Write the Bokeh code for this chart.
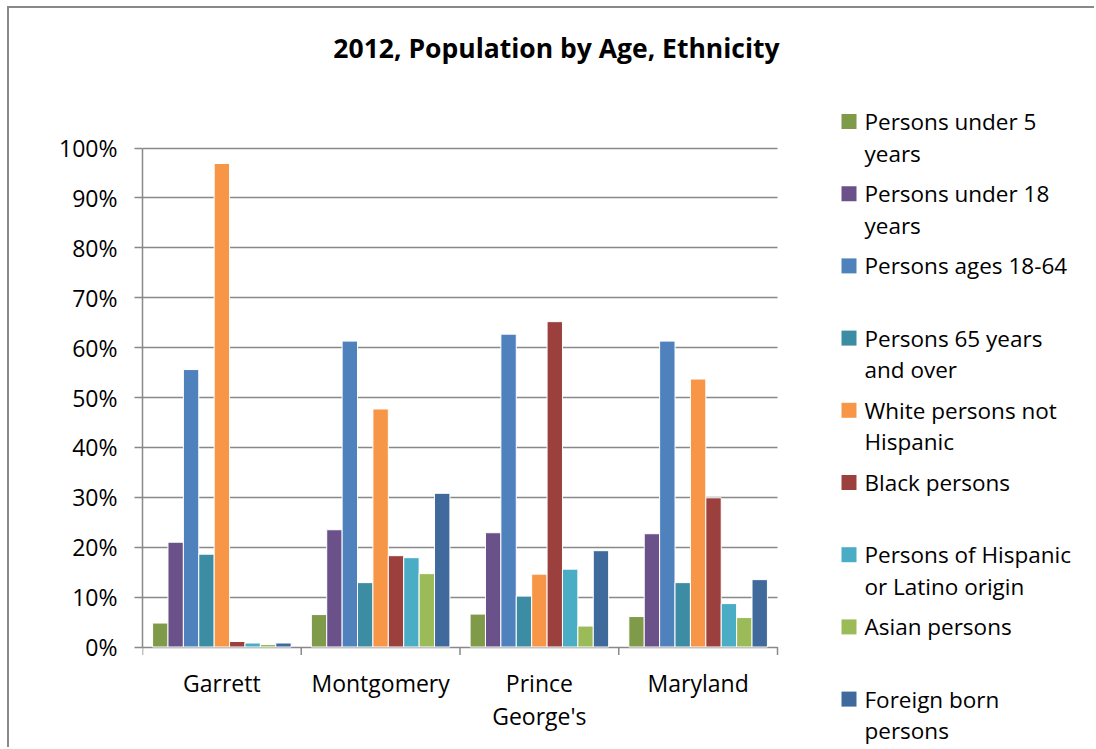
import numpy as np
from bokeh.plotting import figure
from bokeh.models import Range1d, FixedTicker, NumeralTickFormatter, ColumnDataSource
from bokeh.embed import file_html
from bokeh.resources import INLINE
from bokeh.core.properties import value

# ---------------- data ----------------
title_text = "2012, Population by Age, Ethnicity"
categories = ["Garrett", "Montgomery", "Prince George's", "Maryland"]
category_labels = ["Garrett", "Montgomery", "Prince\nGeorge's", "Maryland"]

series_names = [
    "Persons under 5\nyears",
    "Persons under 18\nyears",
    "Persons ages 18-64",
    "Persons 65 years\nand over",
    "White persons not\nHispanic",
    "Black persons",
    "Persons of Hispanic\nor Latino origin",
    "Asian persons",
    "Foreign born\npersons",
]
colors = ["#7F9A48", "#6A518A", "#4F81BD", "#3C8CA3", "#F79646",
          "#9C403D", "#4BACC6", "#9BBB59", "#3F6A9B"]

under5 = [4.8, 6.5, 6.6, 6.1]
under18 = [21.0, 23.5, 22.9, 22.7]
ages18_64 = [55.6, 61.3, 62.7, 61.3]
over65 = [18.6, 12.9, 10.2, 12.9]
white_not_hispanic = [96.9, 47.7, 14.6, 53.7]
black = [1.1, 18.3, 65.2, 29.9]
hispanic = [0.8, 17.9, 15.6, 8.7]
asian = [0.5, 14.7, 4.2, 5.9]
foreign_born = [0.8, 30.8, 19.3, 13.5]

values = [under5, under18, ages18_64, over65, white_not_hispanic,
          black, hispanic, asian, foreign_born]

y_ticks = [0, 10, 20, 30, 40, 50, 60, 70, 80, 90, 100]

FONT = "Open Sans"
GRAY = "#898989"

# ---------------- layout geometry (page pixels) ----------------
OX, OY = 9, 8                 # canvas origin on page (after border)
W, H = 1096 - OX, 749 - OY
FL, FR = 142, 1096            # frame left/right
PX0, PX4 = 142, 777           # x data 0 and 4
PY0, PY1 = 646.5, 147.5       # y data 0 and 1
ncat = len(categories)
ppx = (PX4 - PX0) / ncat
x_end = (FR - FL) / ppx
ppy = PY0 - PY1
y_start = -(OY + H - PY0) / ppy
y_end = 1 + (PY1 - OY) / ppy

p = figure(width=W, height=H, output_backend="svg", toolbar_location=None,
           x_range=Range1d(0, x_end), y_range=Range1d(y_start, y_end),
           x_axis_location=None,
           min_border_left=FL - OX, min_border_right=0, min_border_top=0,
           min_border_bottom=0,
           styles={"margin-left": "7px", "margin-top": "6px",
                   "border-left": "2px solid #898989",
                   "border-top": "2px solid #898989"})
p.extra_x_ranges = {"px": Range1d(FL, FR)}
p.extra_y_ranges = {"px": Range1d(OY + H, OY)}
p.outline_line_color = None
p.background_fill_color = "white"
p.border_fill_color = "white"

# bars
slot = 0.097
centers = np.arange(ncat) + 0.5
n = len(values)
for j, (vals, col) in enumerate(zip(values, colors)):
    src = ColumnDataSource(dict(x=centers + (j - (n - 1) / 2) * slot,
                                top=np.array(vals) / 100.0))
    p.vbar(x="x", top="top", bottom=0, width=slot, source=src,
           fill_color=col, line_color="white", line_width=1)

# y axis
p.yaxis.ticker = FixedTicker(ticks=[t / 100 for t in y_ticks])
p.yaxis.formatter = NumeralTickFormatter(format="0%")
p.yaxis.bounds = (0, 1)
p.yaxis.major_label_text_font = FONT
p.yaxis.major_label_text_font_size = "23px"
p.yaxis.major_label_text_color = "black"
p.yaxis.major_tick_out = 8
p.yaxis.major_tick_in = 0
p.yaxis.minor_tick_line_color = None
p.yaxis.axis_line_color = GRAY
p.yaxis.axis_line_width = 1.5
p.yaxis.major_tick_line_color = GRAY
p.yaxis.major_tick_line_width = 1.5
p.yaxis.major_label_standoff = 17

p.xgrid.grid_line_color = None
p.ygrid.ticker = FixedTicker(ticks=[t / 100 for t in y_ticks])
p.ygrid.cross_bounds = (0, ncat)
p.ygrid.grid_line_color = GRAY
p.ygrid.grid_line_width = 1.5

# category ticks at boundaries and labels at centres
bounds_x = list(range(ncat + 1))
p.segment(x0=bounds_x, x1=bounds_x, y0=[PY0] * len(bounds_x),
          y1=[PY0 + 8] * len(bounds_x), y_range_name="px",
          line_color=GRAY, line_width=1.5)
lx, ly, lt = [], [], []
for c, lab in zip(centers, category_labels):
    for li, line in enumerate(lab.split("\n")):
        lx.append(c)
        ly.append(682 + li * 33)
        lt.append(line)
p.text(x=lx, y=ly, text=lt, y_range_name="px", text_font=value(FONT),
       text_font_size="23px", text_align="center", text_baseline="middle",
       text_color="black")

# title
p.text(x=[556], y=[47], text=[title_text], x_range_name="px", y_range_name="px",
       text_font=value(FONT), text_font_size="26.5px", text_font_style="bold",
       text_align="center", text_baseline="middle", text_color="black")

# legend
row_y = 121 + np.arange(n) * 72.2
p.rect(x=[848.5] * n, y=row_y, width=15, height=15, width_units="screen",
       height_units="screen", x_range_name="px", y_range_name="px",
       fill_color=colors, line_color=None)
tx, ty, tt = [], [], []
for k, name in enumerate(series_names):
    for li, line in enumerate(name.split("\n")):
        tx.append(864)
        ty.append(row_y[k] + li * 31.5)
        tt.append(line)
p.text(x=tx, y=ty, text=tt, x_range_name="px", y_range_name="px",
       text_font=value(FONT), text_font_size="22.5px",
       text_baseline="middle", text_align="left", text_color="black")

open("out.html", "w").write(file_html(p, INLINE))
